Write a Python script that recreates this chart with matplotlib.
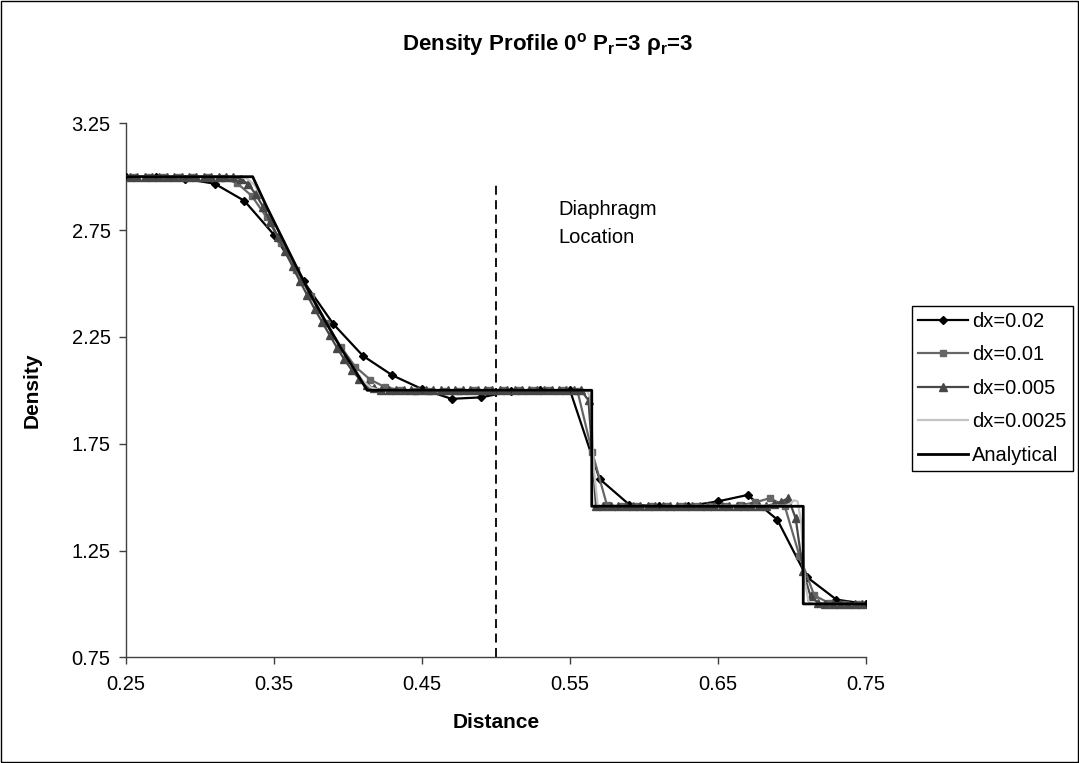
import numpy as np
import matplotlib
matplotlib.use("Agg")
import matplotlib.pyplot as plt
from matplotlib.patches import Rectangle

plt.rcParams['font.family'] = ['Liberation Sans', 'DejaVu Sans']
plt.rcParams['mathtext.fontset'] = 'custom'
plt.rcParams['mathtext.rm'] = 'Liberation Sans'
plt.rcParams['mathtext.bf'] = 'Liberation Sans:bold'

# data
x_dx02 = np.linspace(0.25, 0.75, 26)
rho_dx02 = [3.0, 3.0, 2.99, 2.967, 2.887, 2.728, 2.51, 2.311, 2.162, 2.07,
            2.006, 1.96, 1.967, 1.995, 2.0, 2.0, 1.585, 1.465, 1.457, 1.458,
            1.48, 1.51, 1.395, 1.126, 1.02, 1.0]

x_dx01 = np.linspace(0.255, 0.745, 50)
rho_dx01 = [3.0, 3.0, 3.0, 3.0, 3.0, 2.999, 2.995, 2.97, 2.91, 2.81,
            2.69, 2.565, 2.44, 2.315, 2.205, 2.11, 2.05, 2.015, 2.002, 1.997,
            1.995, 1.996, 1.998, 2.0, 2.0, 2.0, 2.0, 2.0, 2.0, 2.0,
            1.998, 1.71, 1.462, 1.457, 1.457, 1.457, 1.457, 1.457, 1.457, 1.457,
            1.458, 1.462, 1.475, 1.495, 1.46, 1.226, 1.04, 1.004, 1.0, 1.0]

x_dx005 = np.linspace(0.2525, 0.7475, 100)
rho_dx005 = [3.0, 3.0, 3.0, 3.0, 3.0, 3.0, 3.0, 3.0, 3.0, 3.0,
             3.0, 3.0, 3.0, 3.0, 2.998, 2.99, 2.965, 2.92, 2.86, 2.79,
             2.72, 2.65, 2.58, 2.51, 2.445, 2.38, 2.32, 2.26, 2.2, 2.145,
             2.095, 2.055, 2.025, 2.01, 2.003, 2.0, 2.0, 2.0, 2.0, 2.0,
             2.0, 2.0, 2.0, 2.0, 2.0, 2.0, 2.0, 2.0, 2.0, 2.0,
             2.0, 2.0, 2.0, 2.0, 2.0, 2.0, 2.0, 2.0, 2.0, 2.0,
             2.0, 2.0, 1.953, 1.46, 1.457, 1.457, 1.457, 1.457, 1.457, 1.457,
             1.457, 1.457, 1.457, 1.457, 1.457, 1.457, 1.457, 1.457, 1.457, 1.457,
             1.457, 1.457, 1.457, 1.457, 1.457, 1.457, 1.46, 1.466, 1.478, 1.495,
             1.40, 1.153, 1.036, 1.006, 1.0, 1.0, 1.0, 1.0, 1.0, 1.0]

# finest grid, no markers -> only the corner points are kept
x_dx0025 = [0.25, 0.327, 0.332, 0.337, 0.342, 0.345, 0.355, 0.365, 0.375, 0.385,
            0.395, 0.405, 0.41, 0.415, 0.42, 0.425, 0.56125, 0.56375, 0.56625, 0.56875,
            0.57125, 0.69625, 0.69875, 0.70125, 0.70375, 0.70625, 0.70875, 0.71125,
            0.71375, 0.75]
rho_dx0025 = [3.0, 3.0, 2.99, 2.96, 2.9, 2.86, 2.72, 2.58, 2.445, 2.32,
              2.2, 2.09, 2.045, 2.015, 2.003, 2.0, 2.0, 1.97, 1.62, 1.46,
              1.457, 1.46, 1.47, 1.485, 1.48, 1.38, 1.1, 1.01,
              1.0, 1.0]

x_exact = [0.25, 0.3356, 0.345, 0.355, 0.365, 0.375, 0.385, 0.395, 0.405, 0.413,
           0.5647, 0.5647, 0.7076, 0.7076, 0.75]
rho_exact = [3.0, 3.0, 2.86, 2.72, 2.58, 2.445, 2.32, 2.2, 2.09, 2.0,
             2.0, 1.457, 1.457, 1.0, 1.0]

diaphragm_x = 0.5
diaphragm_top = 2.96

xticks = [0.25, 0.35, 0.45, 0.55, 0.65, 0.75]
yticks = [0.75, 1.25, 1.75, 2.25, 2.75, 3.25]

# figure
fig = plt.figure(figsize=(10.79, 7.63), dpi=100)
fig.patches.append(Rectangle((0.0005, 0.0007), 0.999, 0.9986, transform=fig.transFigure,
                             fill=False, edgecolor='black', lw=1.0))
ax = fig.add_axes([126 / 1079, 1 - 657.3 / 763, 740 / 1079, 534 / 763])

ax.plot(x_dx02, rho_dx02, color='black', lw=1.6, marker='D', ms=4, label='dx=0.02', zorder=3)
ax.plot(x_dx01, rho_dx01, color='#666666', lw=1.6, marker='s', ms=5, label='dx=0.01', zorder=4)
ax.plot(x_dx005, rho_dx005, color='#474747', lw=1.6, marker='^', ms=5.5, label='dx=0.005', zorder=5)
ax.plot(x_dx0025, rho_dx0025, color='#c4c4c4', lw=1.6, label='dx=0.0025', zorder=6)
ax.plot(x_exact, rho_exact, color='black', lw=2.0, label='Analytical', zorder=7)

ax.vlines(diaphragm_x, 0.75, diaphragm_top, colors='black', linestyles=(0, (5, 3)), lw=1.3, zorder=2)
ax.text(0.542, 2.89, 'Diaphragm\nLocation', fontsize=14.5, va='top', ha='left', linespacing=1.6)

ax.set_xlim(0.25, 0.75)
ax.set_ylim(0.75, 3.25)
ax.set_xticks(xticks)
ax.set_yticks(yticks)
ax.set_xticklabels([f'{t:.2f}' for t in xticks])
ax.set_yticklabels([f'{t:.2f}' for t in yticks])
ax.tick_params(axis='both', labelsize=14.5, direction='out', length=5, width=1, color='#404040')
ax.tick_params(axis='x', pad=8)
ax.tick_params(axis='y', pad=6)
for s in ['top', 'right']:
    ax.spines[s].set_visible(False)
for s in ['left', 'bottom']:
    ax.spines[s].set_color('#404040')
    ax.spines[s].set_linewidth(1)

fig.text(547.5 / 1079, 1 - 45 / 763,
         r'Density Profile 0$^{\mathbf{o}}$ P$_{\mathbf{r}}$=3 ρ$_{\mathbf{r}}$=3',
         fontsize=16, fontweight='bold', ha='center', va='center')
fig.text(496 / 1079, 1 - 723 / 763, 'Distance', fontsize=15, fontweight='bold',
         ha='center', va='center')
fig.text(32 / 1079, 1 - 390 / 763, 'Density', fontsize=15, fontweight='bold',
         ha='center', va='center', rotation=90)

leg = ax.legend(loc='upper left', bbox_to_anchor=(911.7 / 1079, 1 - 305.7 / 763),
                bbox_transform=fig.transFigure, borderaxespad=0, fontsize=14.5,
                numpoints=1, handlelength=2.5, handletextpad=0.2, borderpad=0.3,
                labelspacing=0.72, fancybox=False, framealpha=1)
leg.get_frame().set_edgecolor('black')
leg.get_frame().set_linewidth(1)

fig.savefig('out.png', dpi=100)
